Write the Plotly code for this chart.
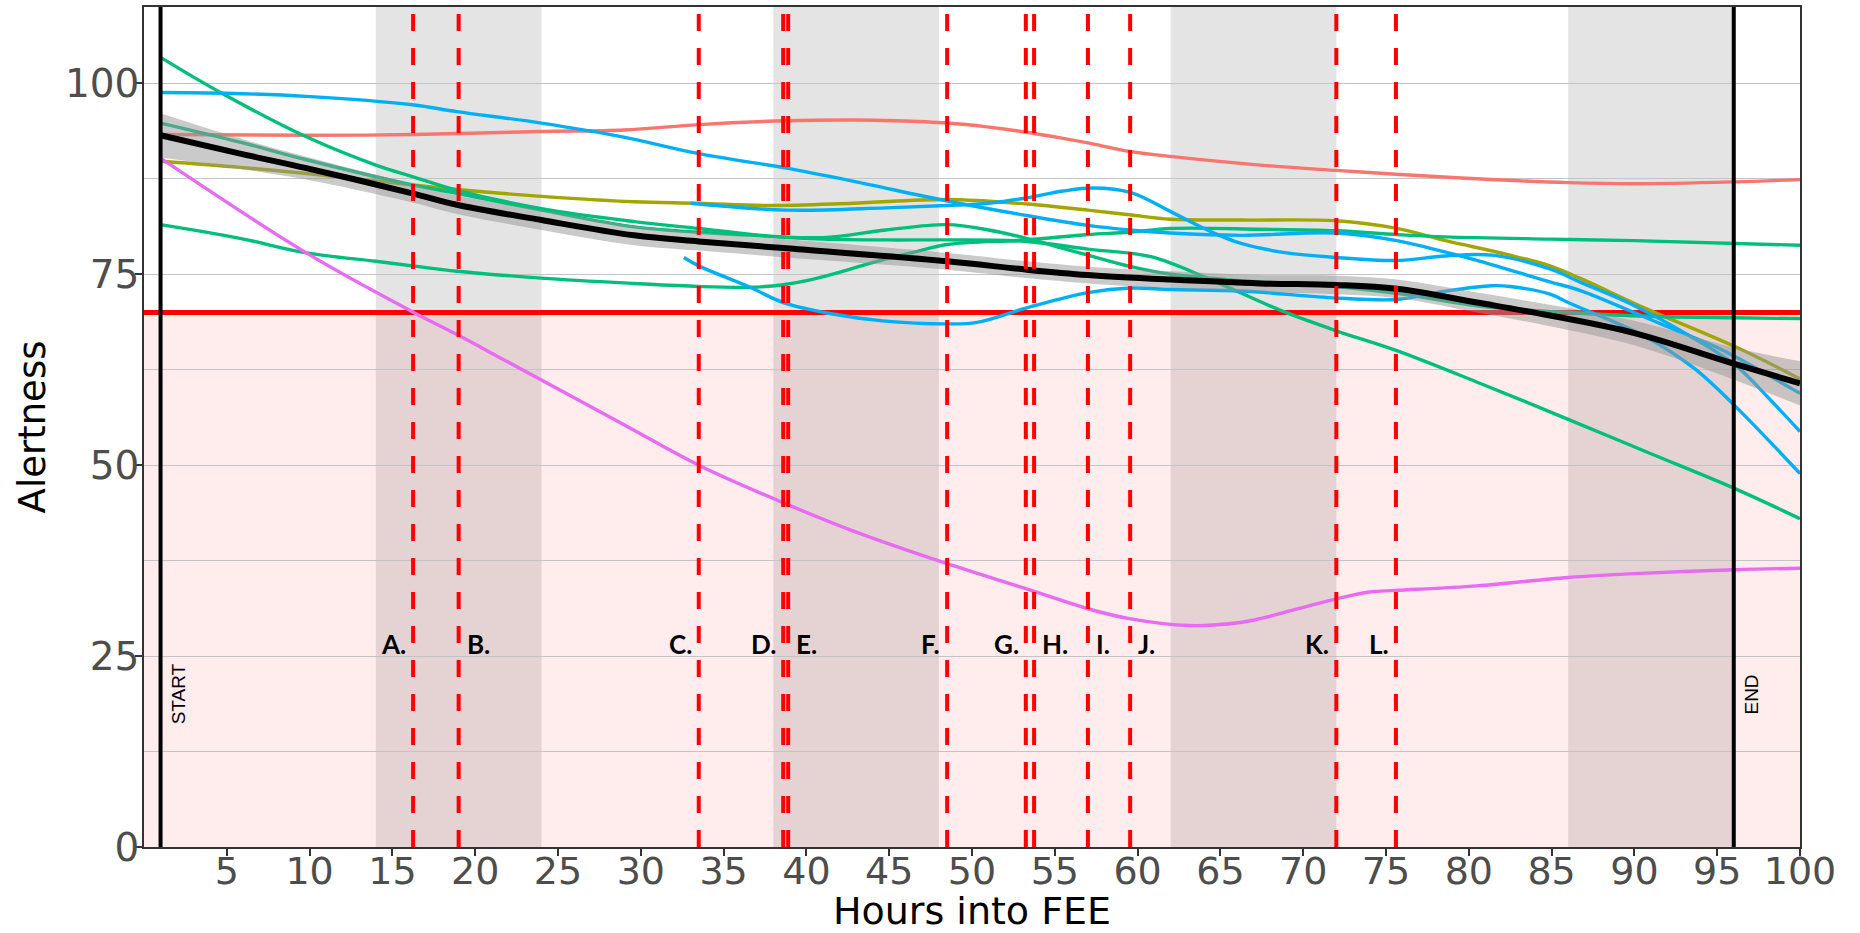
import plotly.graph_objects as go

# ---------------- data ----------------
START_HOUR = 1
END_HOUR = 96
THRESHOLD = 70

NIGHT_START = [14, 38, 62, 86]
NIGHT_END = [24, 48, 72, 96]

EVENT_HOURS = [16.25, 19.0, 33.5, 38.6, 38.9, 48.5, 53.25, 53.75, 57.0, 59.55, 72.0, 75.6]
EVENT_LABELS = ["A.", "B.", "C.", "D.", "E.", "F.", "G.", "H.", "I.", "J.", "K.", "L."]
EVENT_SIDE = ["left", "right", "left", "left", "right", "left", "left", "right", "right", "right", "left", "left"]
EVENT_LABEL_Y = 25
BOUNDARY_LABEL_Y = 20

X_TICKS = list(range(5, 101, 5))
Y_TICKS = [0, 25, 50, 75, 100]

# participant 1 (salmon)
hours_p1 = [1, 10, 16.3, 24, 29, 33.5, 38.8, 42.8, 45.4, 48.5, 50.9, 53.3, 55.5, 57, 59.5, 62.1, 67.4, 72, 75.6, 80.5, 86, 90, 96, 100]
alert_p1 = [93.3, 93.2, 93.3, 93.7, 93.9, 94.6, 95.1, 95.2, 95.1, 94.8, 94.3, 93.6, 92.8, 92.2, 91.1, 90.4, 89.3, 88.6, 88.1, 87.5, 87.0, 86.85, 87.1, 87.4]

# participant 2 (olive)
hours_p2 = [1, 5.8, 9.8, 16.2, 18.9, 24, 29.6, 33.5, 37.7, 42.8, 48.5, 53.3, 57, 59.5, 62, 66.3, 72, 75.65, 78.6, 82.3, 84.9, 86.7, 90.7, 96.1, 100]
alert_p2 = [89.8, 89.0, 88.2, 86.7, 86.1, 85.2, 84.5, 84.3, 84.0, 84.3, 84.8, 84.2, 83.4, 82.8, 82.2, 82.1, 82.0, 81.0, 79.4, 77.6, 76.1, 74.5, 70.5, 65.5, 61.3]

# participant 3 (green, steep start)
hours_p3 = [1, 4.7, 9.8, 14, 16.2, 18.9, 24, 29.6, 33.5, 37.7, 41, 45, 48.5, 53.3, 57, 60.8, 64.4, 68.6, 72, 75.65, 80.7, 86, 91, 96, 100]
alert_p3 = [103.4, 98.7, 93.0, 89.3, 87.8, 86.0, 83.6, 81.9, 81.0, 80.0, 79.6, 79.5, 79.5, 79.3, 78.3, 77.3, 74.3, 70.3, 67.6, 65.0, 60.7, 56.0, 51.5, 47.0, 43.0]

# participant 4 (green, low start)
hours_p4 = [1, 5.8, 9.8, 14, 16.2, 18.9, 24, 29.6, 33.5, 36.6, 38.5, 40.3, 42.7, 44.1, 46.5, 48.5, 53.3, 57, 59.5, 62, 67.4, 72, 75.65, 78.6, 84.9, 90, 100]
alert_p4 = [81.5, 79.7, 77.8, 76.7, 76.1, 75.4, 74.5, 73.8, 73.4, 73.3, 73.6, 74.3, 75.7, 76.6, 77.9, 78.9, 79.5, 80.2, 80.5, 81.0, 80.9, 80.7, 80.2, 79.9, 79.6, 79.4, 78.8]

# participant 5 (green, near the mean)
hours_p5 = [1, 5.8, 9.8, 16.2, 18.9, 24, 29.6, 33.5, 37.7, 41, 44.8, 48.5, 51, 53.3, 55.5, 57, 59.6, 62, 66, 72, 76, 80.7, 86.7, 90.7, 96, 100]
alert_p5 = [94.8, 92.3, 90.0, 86.7, 85.6, 83.4, 81.2, 80.5, 80.0, 79.8, 80.8, 81.5, 80.8, 79.7, 78.4, 77.5, 76.0, 75.0, 74.2, 73.4, 72.4, 70.8, 69.9, 69.5, 69.3, 69.2]

# participant 6 (blue, high start)
hours_p6 = [1, 5, 9.8, 16.2, 18.9, 24, 28.9, 33.5, 38.8, 42.8, 48.5, 53.3, 57, 59.5, 62, 66.3, 72, 75.65, 78.6, 80.7, 84.9, 86.7, 91.7, 94.7, 96.1, 100]
alert_p6 = [98.8, 98.7, 98.3, 97.2, 96.3, 94.8, 93.0, 90.8, 88.9, 87.2, 84.6, 82.7, 81.4, 80.8, 80.4, 80.1, 80.4, 79.4, 77.9, 76.7, 74.0, 72.9, 68.4, 65.7, 64.2, 59.4]

# participant 7 (blue, starts hour 33)
hours_p7 = [33.0, 38.8, 44.8, 48.5, 51, 53.3, 55.5, 57.3, 59.6, 62, 64.4, 66.3, 69, 72, 75.6, 78.6, 81.4, 84.9, 86.7, 89.7, 93.6, 96.1, 98.1, 100]
alert_p7 = [84.3, 83.4, 83.7, 84.0, 84.3, 85.0, 85.9, 86.3, 85.7, 83.2, 80.6, 79.0, 77.8, 77.2, 76.8, 77.4, 77.5, 75.7, 74.0, 71.2, 66.6, 63.1, 58.8, 54.4]

# participant 8 (blue, starts hour 32.6)
hours_p8 = [32.6, 33.5, 36.6, 38.6, 41.6, 44.6, 48.5, 50.3, 53.3, 57, 59.6, 62, 66.3, 72, 75.65, 78.6, 81.4, 82.5, 84.9, 86.1, 90.7, 93.6, 96.1, 100]
alert_p8 = [77.2, 76.1, 73.3, 71.3, 69.8, 68.9, 68.5, 68.7, 70.6, 72.6, 73.2, 73.0, 72.8, 71.9, 71.7, 72.8, 73.5, 73.4, 72.4, 71.2, 66.8, 62.7, 57.7, 48.9]

# participant 9 (magenta)
hours_p9 = [1, 9.8, 16.2, 18.9, 21.9, 28.9, 33.5, 38.8, 42.8, 48.5, 53.3, 57, 59.5, 63.1, 66.2, 67.4, 72, 74, 75.6, 80.5, 86, 90, 96, 100]
alert_p9 = [90.2, 77.8, 70.1, 67.1, 63.6, 55.4, 50.0, 44.9, 41.4, 37.1, 33.8, 31.2, 29.9, 29.0, 29.4, 29.9, 32.5, 33.4, 33.6, 34.2, 35.3, 35.8, 36.3, 36.5]

# group mean (loess) with confidence band
hours_mean = [1, 5.8, 9.8, 16.2, 18.9, 24, 29.6, 33.5, 38.8, 48.5, 53.3, 57, 62, 67.4, 72, 75.65, 80.5, 84.9, 90, 96, 100]
alert_mean = [93.2, 90.8, 88.9, 85.6, 84.1, 82.1, 80.1, 79.3, 78.4, 76.7, 75.6, 74.9, 74.3, 73.8, 73.6, 73.1, 71.3, 69.6, 67.3, 63.3, 60.7]
alert_mean_hi = [96.1, 92.8, 90.4, 86.8, 85.3, 83.4, 81.4, 80.5, 79.6, 77.8, 76.7, 76.0, 75.4, 74.9, 74.8, 74.3, 72.6, 71.0, 68.9, 65.4, 63.6]
alert_mean_lo = [90.3, 88.8, 87.4, 84.4, 82.9, 80.8, 78.8, 78.1, 77.2, 75.6, 74.5, 73.8, 73.2, 72.7, 72.4, 71.9, 70.0, 68.2, 65.7, 61.2, 57.8]

SALMON = "#F8766D"
OLIVE = "#A3A500"
GREEN = "#00BF7D"
BLUE = "#00B0F6"
MAGENTA = "#E76BF3"

participants = [
    (hours_p1, alert_p1, SALMON),
    (hours_p2, alert_p2, OLIVE),
    (hours_p3, alert_p3, GREEN),
    (hours_p4, alert_p4, GREEN),
    (hours_p5, alert_p5, GREEN),
    (hours_p6, alert_p6, BLUE),
    (hours_p7, alert_p7, BLUE),
    (hours_p8, alert_p8, BLUE),
    (hours_p9, alert_p9, MAGENTA),
]

# ---------------- figure ----------------
fig = go.Figure()

# threshold line as a trace so that the ribbon overlays it
fig.add_trace(go.Scatter(x=[0, 100], y=[THRESHOLD, THRESHOLD], mode="lines",
                         line=dict(color="#FF0000", width=5), hoverinfo="skip"))

for hx, ay, col in participants:
    fig.add_trace(go.Scatter(x=hx, y=ay, mode="lines",
                             line=dict(color=col, width=3.4, shape="spline", smoothing=1.0),
                             hoverinfo="skip"))

# confidence ribbon
fig.add_trace(go.Scatter(x=hours_mean, y=alert_mean_hi, mode="lines",
                         line=dict(width=0, shape="spline"), hoverinfo="skip"))
fig.add_trace(go.Scatter(x=hours_mean, y=alert_mean_lo, mode="lines",
                         line=dict(width=0, shape="spline"), fill="tonexty",
                         fillcolor="rgba(150,150,150,0.5)", hoverinfo="skip"))
# mean line
fig.add_trace(go.Scatter(x=hours_mean, y=alert_mean, mode="lines",
                         line=dict(color="black", width=6, shape="spline", smoothing=1.0),
                         hoverinfo="skip"))

shapes = []
# below-threshold zone
shapes.append(dict(type="rect", xref="x", yref="y", x0=0, x1=100, y0=0, y1=THRESHOLD,
                   fillcolor="rgba(255,0,0,0.07)", line=dict(width=0), layer="below"))
# night periods
for a, b in zip(NIGHT_START, NIGHT_END):
    shapes.append(dict(type="rect", xref="x", yref="paper", x0=a, x1=b, y0=0, y1=1,
                       fillcolor="rgba(120,120,120,0.2)", line=dict(width=0), layer="below"))
# event lines
for h in EVENT_HOURS:
    shapes.append(dict(type="line", xref="x", yref="paper", x0=h, x1=h, y0=0, y1=1,
                       line=dict(color="#FF0000", width=4, dash="17px,17px"), layer="above"))
# start / end
for h in (START_HOUR, END_HOUR):
    shapes.append(dict(type="line", xref="x", yref="paper", x0=h, x1=h, y0=0, y1=1,
                       line=dict(color="black", width=4), layer="above"))

annotations = []
for h, lab, side in zip(EVENT_HOURS, EVENT_LABELS, EVENT_SIDE):
    annotations.append(dict(x=h, y=EVENT_LABEL_Y, xref="x", yref="y", text="<b>" + lab + "</b>",
                            showarrow=False, xanchor="right" if side == "left" else "left",
                            yanchor="bottom", xshift=-5 if side == "left" else 6, yshift=-6,
                            font=dict(family="Lato", size=26, color="black")))
for h, lab in ((START_HOUR, "START"), (END_HOUR, "END")):
    annotations.append(dict(x=h, y=BOUNDARY_LABEL_Y, xref="x", yref="y", text=lab, textangle=-90,
                            showarrow=False, xanchor="left", yanchor="middle", xshift=5,
                            font=dict(family="Liberation Sans", size=19, color="black")))

fig.update_layout(
    width=1860, height=933,
    margin=dict(l=144, r=60, t=7, b=86, autoexpand=False),
    plot_bgcolor="white", paper_bgcolor="white",
    showlegend=False,
    shapes=shapes, annotations=annotations,
    xaxis=dict(range=[0, 100], tickvals=X_TICKS, ticks="outside", ticklen=7, tickwidth=1.5,
               tickcolor="#333333", tickfont=dict(family="DejaVu Sans", size=38, color="#4D4D4D"),
               showline=True, linecolor="#333333", linewidth=1.5, mirror=True,
               showgrid=False, zeroline=False, ticklabelstandoff=-17,
               title=dict(text="Hours into FEE", standoff=4,
                          font=dict(family="DejaVu Sans", size=38, color="black")),
               automargin=False),
    yaxis=dict(range=[0, 110], tickvals=Y_TICKS, ticks="outside", ticklen=7, tickwidth=1.5,
               tickcolor="#333333", tickfont=dict(family="DejaVu Sans", size=39, color="#4D4D4D"),
               showline=True, linecolor="#333333", linewidth=1.5, mirror=True,
               showgrid=True, gridcolor="#C4C4C4", gridwidth=1.3, zeroline=False,
               minor=dict(dtick=12.5, tick0=0, showgrid=True, gridcolor="#C4C4C4", gridwidth=1.3),
               ticklabelstandoff=-12,
               title=dict(text="Alertness", standoff=8,
                          font=dict(family="DejaVu Sans", size=37, color="black")),
               automargin=False),
)

fig.write_html("out.html", config={"displayModeBar": False},
               post_script="document.body.style.margin='0';")
